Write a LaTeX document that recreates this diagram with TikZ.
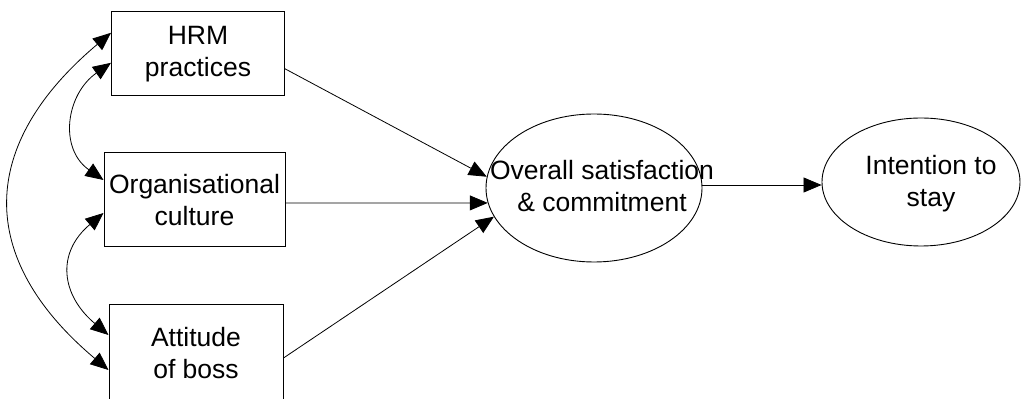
\documentclass[tikz,border=0pt]{standalone}
\usepackage{fontspec}
\setmainfont{Liberation Sans}
\usetikzlibrary{arrows.meta,shapes.geometric}
\begin{document}
\begin{tikzpicture}[x=1pt,y=1pt,
  txt/.style={font=\fontsize{26.5}{32}\selectfont, align=center},
  boxnode/.style={draw, line width=1pt, rectangle, inner sep=0pt, txt},
  ellnode/.style={draw, line width=0.9pt, ellipse, inner sep=0pt},
  conn/.style={line width=0.8pt, >={Triangle[length=18pt,width=15pt]}},
]
\useasboundingbox (0,0) rectangle (1021,399);
\clip (0,0) rectangle (1021,399);

\node[boxnode, minimum width=173pt, minimum height=84pt] (hrm) at (198,345.2) {HRM\\practices};
\node[boxnode, minimum width=181pt, minimum height=94pt] (org) at (194.5,199) {Organisational\\culture};
\node[boxnode, minimum width=174pt, minimum height=96pt] (att) at (196,46) {Attitude\\of boss};

\node[ellnode, minimum width=216pt, minimum height=148pt,
  label={[txt, xshift=8pt, yshift=2pt]center:{Overall satisfaction\\\& commitment}}] (e1) at (594,211) {};
\node[ellnode, minimum width=198pt, minimum height=128pt,
  label={[txt, xshift=10pt, yshift=-1.5pt]center:{Intention to\\stay}}] (e2) at (921,217) {};

\draw[conn,->] ([yshift=-15pt]hrm.east) -- (e1.174);
\draw[conn,->] ([yshift=-3pt]org.east) -- (e1.188);
\draw[conn,->] ([yshift=-5pt]att.east) -- (e1.196);
\draw[conn,->] ([yshift=3pt]e1.east) -- ([yshift=-3pt]e2.west);

\draw[conn,<->] ([yshift=21pt]hrm.west) .. controls +(-133,-112) and +(-133,112) .. ([yshift=-17pt]att.west);
\draw[conn,<->] ([yshift=-9pt]hrm.west) .. controls +(-45,-31.5) and +(-45,31.5) .. ([yshift=20pt]org.west);
\draw[conn,<->] ([yshift=-13pt]org.west) .. controls +(-47.5,-40) and +(-47.5,40) .. ([yshift=18pt]att.west);
\end{tikzpicture}
\end{document}
